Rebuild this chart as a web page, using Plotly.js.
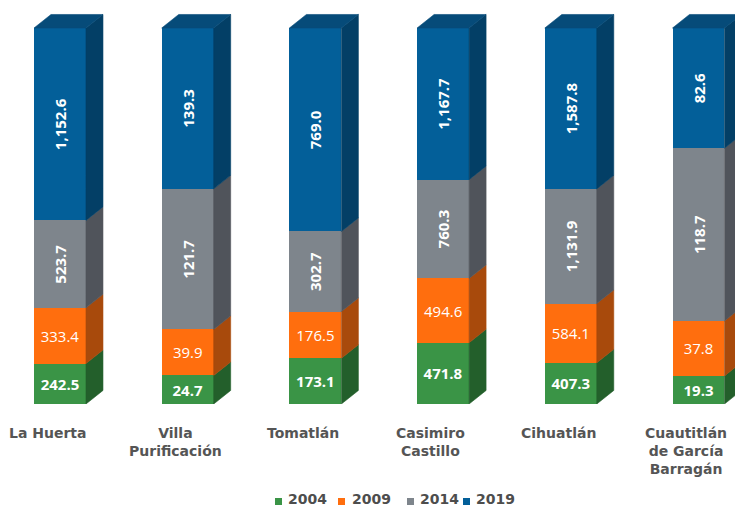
<!DOCTYPE html>
<html>
<head>
<meta charset="utf-8">
<script src="https://cdn.plot.ly/plotly-3.0.1.min.js"></script>
<style>html,body{margin:0;padding:0;background:#fff;}#chart{width:735px;height:506px;}</style>
</head>
<body>
<div id="chart"></div>
<script>
const categories = ['La Huerta', 'Villa<br>Purificación', 'Tomatlán', 'Casimiro<br>Castillo', 'Cihuatlán', 'Cuautitlán<br>de García<br>Barragán'];
const years = ['2004', '2009', '2014', '2019'];
const v2004 = [242.5, 24.7, 173.1, 471.8, 407.3, 19.3];
const v2009 = [333.4, 39.9, 176.5, 494.6, 584.1, 37.8];
const v2014 = [523.7, 121.7, 302.7, 760.3, 1131.9, 118.7];
const v2019 = [1152.6, 139.3, 769.0, 1167.7, 1587.8, 82.6];

const series = [v2004, v2009, v2014, v2019];
const frontColors = ['#3a9446', '#ff6e0e', '#7e858c', '#035f99'];
const sideColors = ['#235f2b', '#a84a0c', '#50545b', '#033f66'];
const topColor = '#064b79';
const labelWeights = ['bold', 'normal', 'bold', 'bold'];
const labelAngles = [0, 0, -90, -90];

const FONT = 'Open Sans, sans-serif';
const LFONT = 'DejaVu Sans, sans-serif';
const xs = categories.map((c, i) => i);
const barW = 0.407;
const dx = 0.133;   // depth offset in x units
const dy = 3.6;     // depth offset in percent units

const fmt = v => v.toLocaleString('en-US', {minimumFractionDigits: 1, maximumFractionDigits: 1});
const totals = xs.map(i => series.reduce((s, a) => s + a[i], 0));

const traces = [];
// front faces (100% stacked bars)
series.forEach((arr, k) => {
  traces.push({
    type: 'bar', x: xs, y: arr, name: years[k], width: barW,
    marker: {color: frontColors[k], line: {width: 0}},
    text: arr.map(fmt), textposition: 'inside', insidetextanchor: 'middle',
    textangle: labelAngles[k], constraintext: 'none',
    textfont: {family: FONT, size: 15, color: '#ffffff', weight: labelWeights[k]},
    hoverinfo: 'skip', showlegend: false
  });
});

// side faces, computed from the stacked percentages
const cum = xs.map(() => 0);
series.forEach((arr, k) => {
  const px = [], py = [];
  xs.forEach(i => {
    const y0 = cum[i];
    const y1 = y0 + arr[i] / totals[i] * 100;
    cum[i] = y1;
    const xr = i + barW / 2;
    px.push(xr, xr + dx, xr + dx, xr, xr, null);
    py.push(y0, y0 + dy, y1 + dy, y1, y0, null);
  });
  traces.push({
    type: 'scatter', mode: 'lines', x: px, y: py, fill: 'toself',
    fillcolor: sideColors[k], line: {color: sideColors[k], width: 0.6},
    hoverinfo: 'skip', showlegend: false
  });
});

// top faces
{
  const px = [], py = [];
  xs.forEach(i => {
    const xl = i - barW / 2, xr = i + barW / 2;
    px.push(xl, xr, xr + dx, xl + dx, xl, null);
    py.push(100, 100, 100 + dy, 100 + dy, 100, null);
  });
  traces.push({
    type: 'scatter', mode: 'lines', x: px, y: py, fill: 'toself',
    fillcolor: topColor, line: {color: topColor, width: 0.6},
    hoverinfo: 'skip', showlegend: false
  });
}

const W = 735, H = 506, plotH = 404;
const annotations = categories.map((c, i) => ({
  x: i, y: 0, xref: 'x', yref: 'y', yanchor: 'top', xanchor: 'center',
  xshift: -12.5, yshift: -19, text: c, showarrow: false, align: 'center',
  font: {family: LFONT, size: 14, color: '#555555', weight: 'bold'}
}));

// manual legend
const legendSq = [275, 338, 407, 463];
const legendTx = [286, 350, 418, 474];
const shapes = [];
years.forEach((y, k) => {
  shapes.push({
    type: 'rect', xref: 'paper', yref: 'paper',
    x0: legendSq[k] / W, x1: (legendSq[k] + 7) / W,
    y0: (plotH - 505) / plotH, y1: (plotH - 498) / plotH,
    fillcolor: frontColors[k], line: {width: 0}
  });
  annotations.push({
    x: legendTx[k] / W, y: (plotH - 499) / plotH, xref: 'paper', yref: 'paper',
    xanchor: 'left', yanchor: 'middle', text: y, showarrow: false,
    font: {family: LFONT, size: 14, color: '#4d4d4d', weight: 'bold'}
  });
});

const layout = {
  width: W, height: H,
  margin: {l: 0, r: 0, t: 0, b: H - plotH, autoexpand: false},
  paper_bgcolor: '#ffffff', plot_bgcolor: '#ffffff',
  barmode: 'stack', barnorm: 'percent',
  xaxis: {range: [-0.4699, 5.2858], showgrid: false, zeroline: false, showticklabels: false, fixedrange: true},
  yaxis: {range: [0, 107.45], showgrid: false, zeroline: false, showticklabels: false, fixedrange: true},
  showlegend: false,
  annotations: annotations,
  shapes: shapes
};

Plotly.newPlot('chart', traces, layout, {displayModeBar: false, staticPlot: true});
</script>
</body>
</html>
